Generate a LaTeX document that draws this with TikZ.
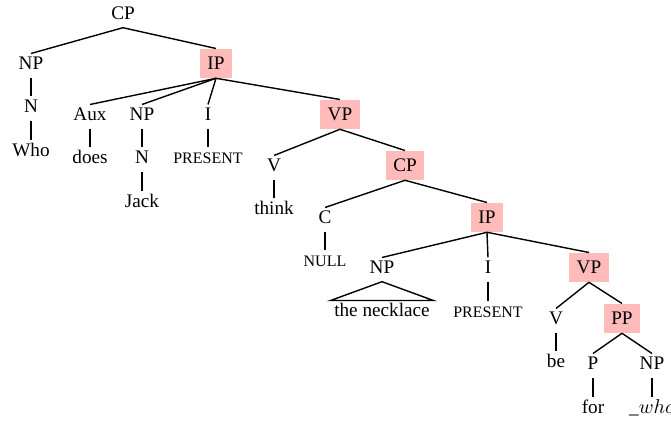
\documentclass[tikz,border=0pt]{standalone}
\usepackage{fontspec}
\setmainfont{Liberation Serif}
\usepackage{tikz}
\usetikzlibrary{positioning}
\colorlet{mypink}{red!27}
\tikzstyle{cat}=[inner sep=1.5pt,text height=6.4pt,text depth=2pt,anchor=base]
\tikzstyle{hl}=[cat,fill=mypink,inner sep=3.8pt,text height=6.6pt,text depth=0pt]
\newcommand{\smcap}[1]{{\fontsize{8pt}{10pt}\selectfont #1}}

\begin{document}
\begin{tikzpicture}[x=0.5pt,y=-0.5pt,line width=0.7pt,font=\fontsize{9.6pt}{11pt}\selectfont]

	\useasboundingbox (0,0) rectangle (671,421);

	% top clause
	\node[cat] (cp) at (123,20) {CP};
	\node[cat] (np1) at (31,70) {NP};
	\node[hl] (ip1) at (216,70) {IP};
	\node[cat] (n1) at (31,113) {N};
	\node[cat] (who) at (31,157) {Who};

	\node[cat] (aux) at (90,121) {Aux};
	\node[cat] (does) at (90,164) {does};
	\node[cat] (np2) at (142,121) {NP};
	\node[cat] (n2) at (142,164) {N};
	\node[cat] (jack) at (142,208) {Jack};
	\node[cat] (i1) at (208,121) {I};
	\node[cat] (pres1) at (208,164) {\smcap{PRESENT}};
	\node[hl] (vp1) at (340,121) {VP};

	\node[cat] (v1) at (274,172) {V};
	\node[cat] (think) at (274,215) {think};
	\node[hl] (cp2) at (405,172) {CP};

	% embedded clause
	\node[cat] (c) at (325,224) {C};
	\node[cat] (null) at (325,267) {\smcap{NULL}};
	\node[hl] (ip2) at (487,224) {IP};

	\node[cat] (np3) at (382,274) {NP};
	\node[cat] (neck) at (382,317) {the necklace};
	\node[cat] (i2) at (488,274) {I};
	\node[cat] (pres2) at (488,318) {\smcap{PRESENT}};
	\node[hl] (vp2) at (589,274) {VP};

	\node[cat] (v2) at (556,325) {V};
	\node[cat] (be) at (556,368) {be};
	\node[hl] (pp) at (622,325) {PP};
	\node[cat] (p) at (593,370) {P};
	\node[cat] (for) at (593,414) {for};
	\node[cat] (np4) at (652,370) {NP};
	\node[cat] (gap) at (652,414) {\_$who$};

	\draw (cp.south) -- (np1.north);
	\draw (cp.south) -- (ip1.north);
	\draw (np1.south) -- (n1.north);
	\draw (n1.south) -- (who.north);

	\draw (ip1.south) -- (aux.north);
	\draw (ip1.south) -- (np2.north);
	\draw (ip1.south) -- (i1.north);
	\draw (ip1.south) -- (vp1.north);
	\draw (aux.south) -- (does.north);
	\draw (np2.south) -- (n2.north);
	\draw (n2.south) -- (jack.north);
	\draw (i1.south) -- (pres1.north);

	\draw (vp1.south) -- (v1.north);
	\draw (vp1.south) -- (cp2.north);
	\draw (v1.south) -- (think.north);

	\draw (cp2.south) -- (c.north);
	\draw (cp2.south) -- (ip2.north);
	\draw (c.south) -- (null.north);

	\draw (ip2.south) -- (np3.north);
	\draw (ip2.south) -- (i2.north);
	\draw (ip2.south) -- (vp2.north);
	\draw (np3.south) -- (neck.north west) -- (neck.north east) -- cycle;
	\draw (i2.south) -- (pres2.north);

	\draw (vp2.south) -- (v2.north);
	\draw (vp2.south) -- (pp.north);
	\draw (v2.south) -- (be.north);
	\draw (pp.south) -- (p.north);
	\draw (pp.south) -- (np4.north);
	\draw (p.south) -- (for.north);
	\draw (np4.south) -- (gap.north);

\end{tikzpicture}
\end{document}
